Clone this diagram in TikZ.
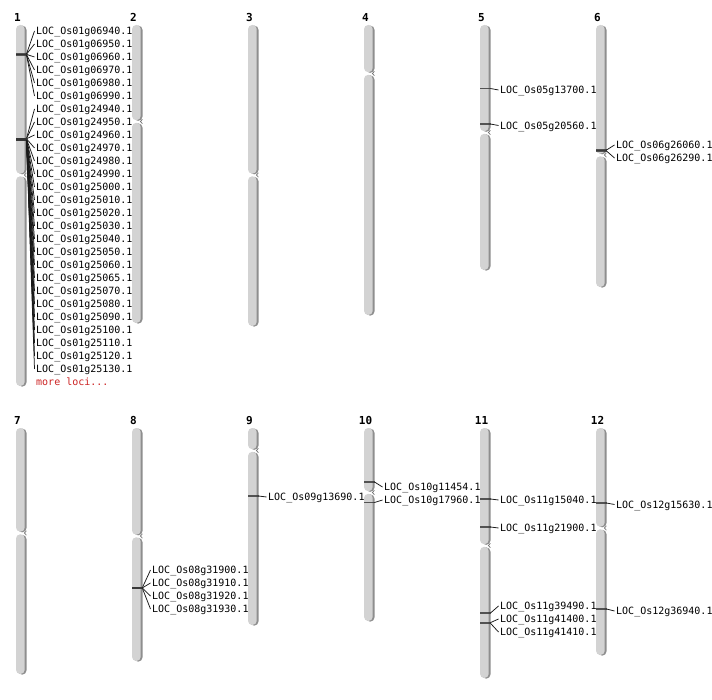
\documentclass[tikz,border=0pt]{standalone}
\usepackage{fontspec}
\setmainfont{DejaVu Sans}
\newfontfamily\monof{DejaVu Sans Mono}
\definecolor{chrbody}{HTML}{D3D3D3}
\definecolor{chrshade}{HTML}{8E8E8E}
\definecolor{markcol}{HTML}{333333}
\definecolor{morecol}{HTML}{CC2222}
\tikzset{
  chrarm/.style={fill=chrbody, rounded corners=4.2pt},
  chrarmshadow/.style={fill=chrshade, rounded corners=4.2pt},
  notch/.style={draw=chrshade!80!black, line width=0.7pt},
  marker/.style={draw=markcol, line width=1.3pt, opacity=0.8},
  conn/.style={draw=black!90, line width=0.75pt},
  loclabel/.style={anchor=west, inner xsep=1.5pt, inner ysep=0pt, text height=7.3pt, text depth=0pt, font=\monof\fontsize{10}{12}\selectfont},
  chrnum/.style={anchor=base, inner sep=0pt, font=\monof\bfseries\fontsize{11}{13}\selectfont}
}
\newcommand\chromo[6]{% #1 number, #2 L, #3 top, #4 centromere, #5 bottom, #6 label baseline
  \fill[chrarmshadow] (#2+1.8,#3+0.6) rectangle (#2+10.5,#4-0.7);
  \fill[chrarm] (#2,#3) rectangle (#2+8.7,#4-1.3);
  \fill[chrarmshadow] (#2+1.8,#4+1.3+0.6) rectangle (#2+10.5,#5+0.6);
  \fill[chrarm] (#2,#4+1.3) rectangle (#2+8.7,#5);
  \draw[notch] (#2+10.4,#4-2.2) -- (#2+8.4,#4) -- (#2+10.4,#4+2.2);
  \node[chrnum] (n#1) at (#2+1.5,#6) {#1};
}
\newcommand\mylocus[5]{% #1 name, #2 L, #3 marker y, #4 label y, #5 text
  \draw[marker] (#2,#3) -- (#2+10.5,#3) coordinate (#1m);
  \node[loclabel] (#1) at (#2+18.5,#4) {#5};
  \draw[conn] (#1m) -- (#1.west);
}
\begin{document}
\begin{tikzpicture}[x=1pt,y=-1pt]
\useasboundingbox (0,0) rectangle (712,700);
\fill[white] (0,0) rectangle (712,700);
% top row
\chromo{1}{16}{25}{175}{386}{21.3}
\chromo{2}{132}{25}{121.5}{323}{21.3}
\chromo{3}{248}{25}{175}{326}{21.3}
\chromo{4}{364}{25}{73.5}{315}{21.3}
\chromo{5}{480}{25}{132.5}{270}{21.3}
\chromo{6}{596}{25}{155}{287}{21.3}
% bottom row
\chromo{7}{16}{428}{533}{674}{424.3}
\chromo{8}{132}{428}{536}{661}{424.3}
\chromo{9}{248}{428}{450.5}{625}{424.3}
\chromo{10}{364}{428}{492.5}{621}{424.3}
\chromo{11}{480}{428}{545.5}{678}{424.3}
\chromo{12}{596}{428}{528}{655}{424.3}
% chromosome 1
\foreach \g [count=\k from 0] in {06940,06950,06960,06970,06980,06990}{
  \mylocus{a\k}{16}{54+0.2*\k}{31+13*\k}{LOC\_Os01g\g.1}
}
\foreach \g [count=\k from 6] in {24940,24950,24960,24970,24980,24990,25000,25010,25020,25030,25040,25050,25060,25065,25070,25080,25090,25100,25110,25120,25130}{
  \mylocus{b\k}{16}{138.2+0.07*\k}{31+13*\k}{LOC\_Os01g\g.1}
}
\node[loclabel, text=morecol] (more) at (34.5,382) {more loci...};
% chromosome 5
\mylocus{c1}{480}{88.5}{90}{LOC\_Os05g13700.1}
\mylocus{c2}{480}{124}{125.5}{LOC\_Os05g20560.1}
% chromosome 6
\mylocus{d1}{596}{150}{145}{LOC\_Os06g26060.1}
\mylocus{d2}{596}{151}{158}{LOC\_Os06g26290.1}
% chromosome 8
\mylocus{e1}{132}{587.4}{570}{LOC\_Os08g31900.1}
\mylocus{e2}{132}{587.8}{583}{LOC\_Os08g31910.1}
\mylocus{e3}{132}{588.2}{596}{LOC\_Os08g31920.1}
\mylocus{e4}{132}{588.6}{609}{LOC\_Os08g31930.1}
% chromosome 9
\mylocus{f1}{248}{496}{497}{LOC\_Os09g13690.1}
% chromosome 10
\mylocus{g1}{364}{482}{487}{LOC\_Os10g11454.1}
\mylocus{g2}{364}{502.5}{500}{LOC\_Os10g17960.1}
% chromosome 11
\mylocus{h1}{480}{499}{500}{LOC\_Os11g15040.1}
\mylocus{h2}{480}{527}{528}{LOC\_Os11g21900.1}
\mylocus{h3}{480}{613}{606}{LOC\_Os11g39490.1}
\mylocus{h4}{480}{622.6}{619}{LOC\_Os11g41400.1}
\mylocus{h5}{480}{623.3}{632}{LOC\_Os11g41410.1}
% chromosome 12
\mylocus{i1}{596}{503}{504.5}{LOC\_Os12g15630.1}
\mylocus{i2}{596}{609}{611}{LOC\_Os12g36940.1}
\end{tikzpicture}
\end{document}
